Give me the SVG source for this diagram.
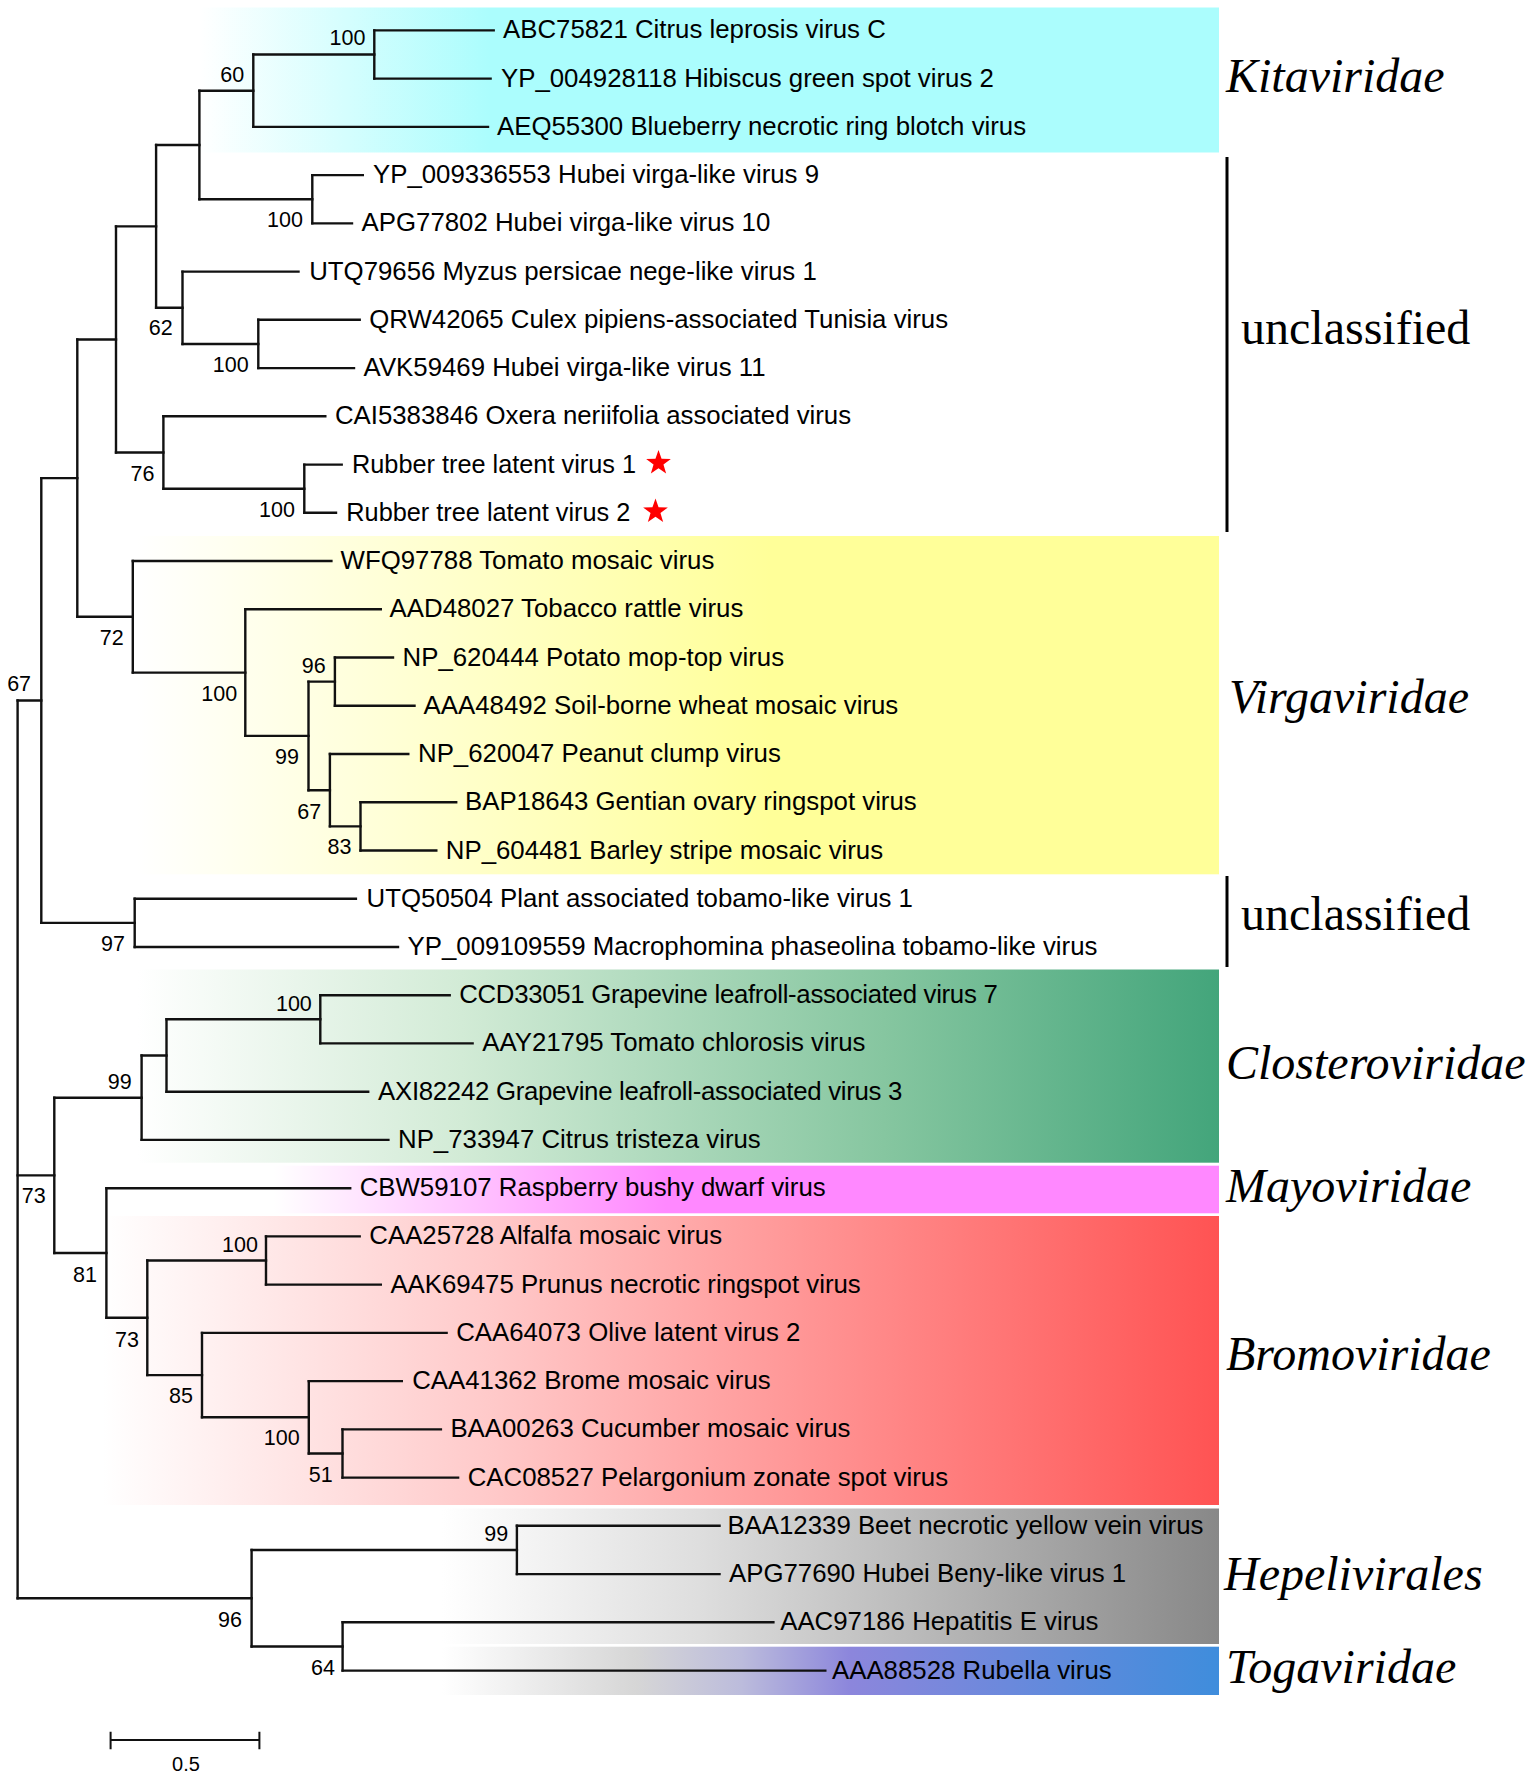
<svg xmlns="http://www.w3.org/2000/svg" xmlns:xlink="http://www.w3.org/1999/xlink" width="1535" height="1779" viewBox="0 0 1535 1779">
<style>
.br{stroke:#111;stroke-width:2.4;fill:none;stroke-linecap:square}
.tip{font-family:"Liberation Sans",Arial,sans-serif;font-size:25.8px;fill:#000}
.bs{font-family:"Liberation Sans",Arial,sans-serif;font-size:21.5px;fill:#000;text-anchor:middle}
.fam{font-family:"Liberation Serif","Times New Roman",serif;font-size:48px;fill:#000}
.it{font-style:italic}
.bar{stroke:#000;stroke-width:3;fill:none}
.star{fill:#ff0000}
</style>
<defs>
<linearGradient id="gKita" gradientUnits="userSpaceOnUse" x1="200" y1="0" x2="490" y2="0"><stop offset="0" stop-color="#ffffff"/><stop offset="1" stop-color="#abfdfd"/></linearGradient>
<linearGradient id="gVirga" gradientUnits="userSpaceOnUse" x1="137" y1="0" x2="770" y2="0"><stop offset="0" stop-color="#ffffff"/><stop offset="1" stop-color="#ffff99"/></linearGradient>
<linearGradient id="gClos" gradientUnits="userSpaceOnUse" x1="137" y1="0" x2="1219" y2="0"><stop offset="0" stop-color="#ffffff"/><stop offset="0.3" stop-color="#d2ebd6"/><stop offset="0.69" stop-color="#86c6a0"/><stop offset="1" stop-color="#43a57b"/></linearGradient>
<linearGradient id="gMayo" gradientUnits="userSpaceOnUse" x1="274" y1="0" x2="666" y2="0"><stop offset="0" stop-color="#ffffff"/><stop offset="1" stop-color="#ff88ff"/></linearGradient>
<linearGradient id="gBromo" gradientUnits="userSpaceOnUse" x1="103" y1="0" x2="1219" y2="0"><stop offset="0" stop-color="#ffffff"/><stop offset="0.35" stop-color="#ffc9c9"/><stop offset="0.7" stop-color="#ff8888"/><stop offset="1" stop-color="#ff5353"/></linearGradient>
<linearGradient id="gHep" gradientUnits="userSpaceOnUse" x1="442" y1="0" x2="1219" y2="0"><stop offset="0" stop-color="#ffffff"/><stop offset="0.33" stop-color="#dedede"/><stop offset="1" stop-color="#888888"/></linearGradient>
<linearGradient id="gToga" gradientUnits="userSpaceOnUse" x1="442" y1="0" x2="1219" y2="0"><stop offset="0" stop-color="#ffffff"/><stop offset="0.25" stop-color="#d6d6d6"/><stop offset="0.385" stop-color="#bcbcdc"/><stop offset="0.525" stop-color="#8c86dc"/><stop offset="1" stop-color="#3f8ddc"/></linearGradient>
<polygon id="starShape" points="0,-13 3.06,-4.21 12.36,-4.02 4.95,1.61 7.64,10.52 0,5.2 -7.64,10.52 -4.95,1.61 -12.36,-4.02 -3.06,-4.21"/>
</defs>
<rect width="1535" height="1779" fill="#ffffff"/>
<g id="clade-boxes">
<rect id="box-kitaviridae" x="200" y="7.5" width="1019" height="145" fill="url(#gKita)"/>
<rect id="box-virgaviridae" x="137" y="536" width="1082" height="338.3" fill="url(#gVirga)"/>
<rect id="box-closteroviridae" x="137" y="969.5" width="1082" height="193.2" fill="url(#gClos)"/>
<rect id="box-mayoviridae" x="274" y="1165.7" width="945" height="47.6" fill="url(#gMayo)"/>
<rect id="box-bromoviridae" x="103" y="1216" width="1116" height="289" fill="url(#gBromo)"/>
<rect id="box-hepelivirales" x="442" y="1508.5" width="777" height="135.5" fill="url(#gHep)"/>
<rect id="box-togaviridae" x="442" y="1646.7" width="777" height="48.3" fill="url(#gToga)"/>
</g>
<g id="connectors" class="br">
<path d="M374.3,30.4V78.6 M253.3,54.5V126.9 M312.3,175.1V223.4 M199.4,90.7V199.25 M258.3,319.8V368.1 M182.5,271.6V343.95 M156.1,145V307.8 M304.3,464.6V512.8 M163.4,416.3V488.7 M116,226.4V452.5 M334.9,657.5V705.8 M360.5,802.2V850.5 M329.9,754V826.35 M308.5,681.65V790.2 M245.3,609.3V735.9 M132.8,561V672.6 M77.3,339.45V616.8 M134.7,898.7V947 M41.3,478.1V922.85 M320.3,995.2V1043.4 M166.5,1019.3V1091.7 M141.6,1055.5V1139.9 M266,1236.4V1284.6 M342.5,1429.4V1477.6 M308.8,1381.1V1453.5 M202,1332.9V1417.3 M147.3,1260.5V1375.1 M106.4,1188.2V1317.8 M54.3,1097.7V1253 M516.9,1525.8V1574.1 M342.6,1622.3V1670.6 M251.6,1550V1646.5 M17.6,700.5V1598.2"/>
<path d="M253.3,54.5H374.3 M199.4,90.7H253.3 M199.4,199.25H312.3 M156.1,145H199.4 M182.5,343.95H258.3 M156.1,307.8H182.5 M116,226.4H156.1 M163.4,488.7H304.3 M116,452.5H163.4 M77.3,339.45H116 M308.5,681.65H334.9 M329.9,826.35H360.5 M308.5,790.2H329.9 M245.3,735.9H308.5 M132.8,672.6H245.3 M77.3,616.8H132.8 M41.3,478.1H77.3 M41.3,922.85H134.7 M17.6,700.5H41.3 M166.5,1019.3H320.3 M141.6,1055.5H166.5 M54.3,1097.7H141.6 M147.3,1260.5H266 M308.8,1453.5H342.5 M202,1417.3H308.8 M147.3,1375.1H202 M106.4,1317.8H147.3 M54.3,1253H106.4 M17.6,1175.35H54.3 M251.6,1550H516.9 M251.6,1646.5H342.6 M17.6,1598.2H251.6"/>
<path d="M374.3,30.4H493.7 M374.3,78.6H490.6 M253.3,126.9H488 M312.3,175.1H362.8 M312.3,223.4H352 M182.5,271.6H298.5 M258.3,319.8H359.7 M258.3,368.1H354 M163.4,416.3H325.3 M304.3,464.6H341.7 M304.3,512.8H336 M132.8,561H331.4 M245.3,609.3H380.8 M334.9,657.5H393 M334.9,705.8H414.5 M329.9,754H408.3 M360.5,802.2H456.2 M360.5,850.5H436.3 M134.7,898.7H355.9 M134.7,947H398 M320.3,995.2H449.7 M320.3,1043.4H472.6 M166.5,1091.7H368.2 M141.6,1139.9H388.4 M106.4,1188.2H350.2 M266,1236.4H359.7 M266,1284.6H380.8 M202,1332.9H446.6 M308.8,1381.1H401.8 M342.5,1429.4H440.9 M342.5,1477.6H458.1 M516.9,1525.8H719.5 M516.9,1574.1H719.5 M342.6,1622.3H773.4 M342.6,1670.6H825.3"/>
</g>
<g id="tips" class="tip">
<g id="tip-ABC75821"><text x="503" y="38.4">ABC75821 Citrus leprosis virus C</text></g>
<g id="tip-YP_004928118"><text x="501" y="86.6">YP_004928118 Hibiscus green spot virus 2</text></g>
<g id="tip-AEQ55300"><text x="497" y="134.9">AEQ55300 Blueberry necrotic ring blotch virus</text></g>
<g id="tip-YP_009336553"><text x="373" y="183.1">YP_009336553 Hubei virga-like virus 9</text></g>
<g id="tip-APG77802"><text x="361.6" y="231.4">APG77802 Hubei virga-like virus 10</text></g>
<g id="tip-UTQ79656"><text x="309.2" y="279.6">UTQ79656 Myzus persicae nege-like virus 1</text></g>
<g id="tip-QRW42065"><text x="369.3" y="327.8">QRW42065 Culex pipiens-associated Tunisia virus</text></g>
<g id="tip-AVK59469"><text x="363.6" y="376.1">AVK59469 Hubei virga-like virus 11</text></g>
<g id="tip-CAI5383846"><text x="334.9" y="424.3">CAI5383846 Oxera neriifolia associated virus</text></g>
<g id="tip-RTLV1"><text x="352" y="472.6" textLength="284" lengthAdjust="spacingAndGlyphs">Rubber tree latent virus 1</text><use xlink:href="#starShape" class="star" x="658.5" y="463"/></g>
<g id="tip-RTLV2"><text x="346.3" y="520.8" textLength="284" lengthAdjust="spacingAndGlyphs">Rubber tree latent virus 2</text><use xlink:href="#starShape" class="star" x="655.5" y="511.5"/></g>
<g id="tip-WFQ97788"><text x="340.6" y="569">WFQ97788 Tomato mosaic virus</text></g>
<g id="tip-AAD48027"><text x="389.6" y="617.3">AAD48027 Tobacco rattle virus</text></g>
<g id="tip-NP_620444"><text x="402.6" y="665.5">NP_620444 Potato mop-top virus</text></g>
<g id="tip-AAA48492"><text x="423.6" y="713.8">AAA48492 Soil-borne wheat mosaic virus</text></g>
<g id="tip-NP_620047"><text x="418" y="762">NP_620047 Peanut clump virus</text></g>
<g id="tip-BAP18643"><text x="465" y="810.2">BAP18643 Gentian ovary ringspot virus</text></g>
<g id="tip-NP_604481"><text x="445.8" y="858.5">NP_604481 Barley stripe mosaic virus</text></g>
<g id="tip-UTQ50504"><text x="366.6" y="906.7">UTQ50504 Plant associated tobamo-like virus 1</text></g>
<g id="tip-YP_009109559"><text x="407.6" y="955">YP_009109559 Macrophomina phaseolina tobamo-like virus</text></g>
<g id="tip-CCD33051"><text x="459.2" y="1003.2" letter-spacing="-0.3">CCD33051 Grapevine leafroll-associated virus 7</text></g>
<g id="tip-AAY21795"><text x="482.2" y="1051.4">AAY21795 Tomato chlorosis virus</text></g>
<g id="tip-AXI82242"><text x="378.1" y="1099.7" letter-spacing="-0.3">AXI82242 Grapevine leafroll-associated virus 3</text></g>
<g id="tip-NP_733947"><text x="398" y="1147.9">NP_733947 Citrus tristeza virus</text></g>
<g id="tip-CBW59107"><text x="359.7" y="1196.2">CBW59107 Raspberry bushy dwarf virus</text></g>
<g id="tip-CAA25728"><text x="369.3" y="1244.4">CAA25728 Alfalfa mosaic virus</text></g>
<g id="tip-AAK69475"><text x="390.4" y="1292.6">AAK69475 Prunus necrotic ringspot virus</text></g>
<g id="tip-CAA64073"><text x="456.2" y="1340.9">CAA64073 Olive latent virus 2</text></g>
<g id="tip-CAA41362"><text x="412.2" y="1389.1">CAA41362 Brome mosaic virus</text></g>
<g id="tip-BAA00263"><text x="450.4" y="1437.4">BAA00263 Cucumber mosaic virus</text></g>
<g id="tip-CAC08527"><text x="467.7" y="1485.6">CAC08527 Pelargonium zonate spot virus</text></g>
<g id="tip-BAA12339"><text x="727.4" y="1533.8">BAA12339 Beet necrotic yellow vein virus</text></g>
<g id="tip-APG77690"><text x="729" y="1582.1">APG77690 Hubei Beny-like virus 1</text></g>
<g id="tip-AAC97186"><text x="780.2" y="1630.3">AAC97186 Hepatitis E virus</text></g>
<g id="tip-AAA88528"><text x="832" y="1678.6">AAA88528 Rubella virus</text></g>
</g>
<g id="internal-nodes" class="bs">
<g id="n-kita100"><text x="347.5" y="45">100</text></g>
<g id="n-60"><text x="232.3" y="81.5">60</text></g>
<g id="n-hubei100"><text x="285" y="227.1">100</text></g>
<g id="n-62"><text x="160.7" y="335.4">62</text></g>
<g id="n-culex100"><text x="230.8" y="371.8">100</text></g>
<g id="n-76"><text x="142.4" y="480.7">76</text></g>
<g id="n-rubber100"><text x="277" y="516.5">100</text></g>
<g id="n-72"><text x="111.7" y="645.2">72</text></g>
<g id="n-virga100"><text x="219.3" y="700.8">100</text></g>
<g id="n-96"><text x="313.8" y="672.5">96</text></g>
<g id="n-99v"><text x="287" y="764.2">99</text></g>
<g id="n-67v"><text x="309.2" y="818.5">67</text></g>
<g id="n-83"><text x="339.5" y="854.2">83</text></g>
<g id="n-97"><text x="112.9" y="950.8">97</text></g>
<g id="n-67"><text x="19.1" y="690.8">67</text></g>
<g id="n-clos100"><text x="293.9" y="1010.8">100</text></g>
<g id="n-99c"><text x="119.8" y="1088.5">99</text></g>
<g id="n-73"><text x="33.7" y="1202.5">73</text></g>
<g id="n-81"><text x="85" y="1281.5">81</text></g>
<g id="n-bromo100a"><text x="240" y="1251.5">100</text></g>
<g id="n-73b"><text x="127" y="1346.5">73</text></g>
<g id="n-85"><text x="181" y="1403.2">85</text></g>
<g id="n-bromo100b"><text x="281.7" y="1445.2">100</text></g>
<g id="n-51"><text x="320.7" y="1481.8">51</text></g>
<g id="n-99h"><text x="496.3" y="1540.8">99</text></g>
<g id="n-96h"><text x="230" y="1626.8">96</text></g>
<g id="n-64"><text x="323" y="1674.8">64</text></g>
</g>
<g id="clade-labels">
<g id="lab-kitaviridae"><text class="fam it" x="1226" y="92">Kitaviridae</text></g>
<g id="lab-unclassified1"><line class="bar" x1="1227" y1="157" x2="1227" y2="532"/><text class="fam" x="1241" y="344">unclassified</text></g>
<g id="lab-virgaviridae"><text class="fam it" x="1229" y="713">Virgaviridae</text></g>
<g id="lab-unclassified2"><line class="bar" x1="1227" y1="876" x2="1227" y2="967"/><text class="fam" x="1241" y="930">unclassified</text></g>
<g id="lab-closteroviridae"><text class="fam it" x="1226" y="1079">Closteroviridae</text></g>
<g id="lab-mayoviridae"><text class="fam it" x="1226" y="1202">Mayoviridae</text></g>
<g id="lab-bromoviridae"><text class="fam it" x="1226" y="1370">Bromoviridae</text></g>
<g id="lab-hepelivirales"><text class="fam it" x="1224" y="1590">Hepelivirales</text></g>
<g id="lab-togaviridae"><text class="fam it" x="1226" y="1683">Togaviridae</text></g>
</g>
<g id="scale-bar">
<path d="M110.6,1740H259.4 M110.6,1731.7V1749.3 M259.4,1731.7V1749.3" stroke="#111" stroke-width="2" fill="none"/>
<text x="186" y="1771" font-family="Liberation Sans, Arial, sans-serif" font-size="20" text-anchor="middle">0.5</text>
</g>
</svg>
